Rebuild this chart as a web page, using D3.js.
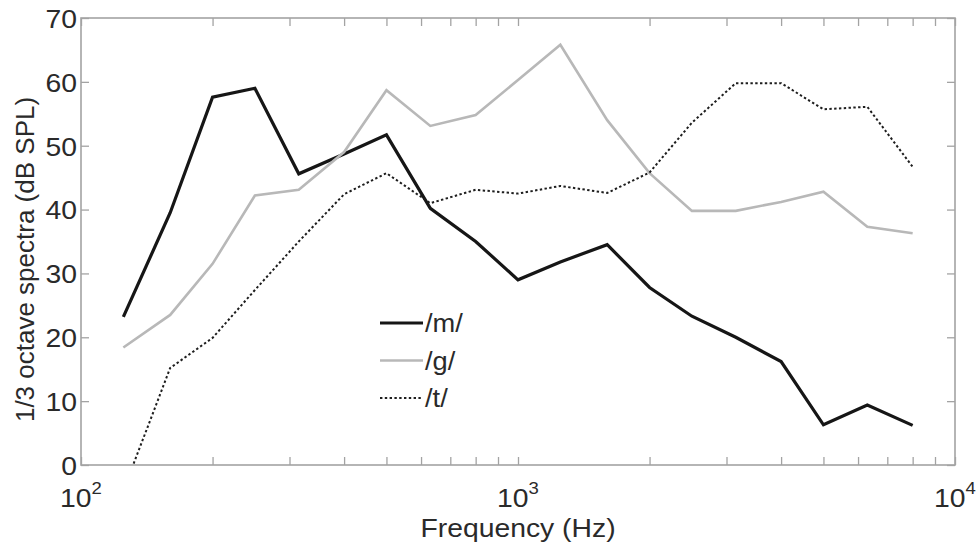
<!DOCTYPE html>
<html>
<head>
  <meta charset="utf-8">
  <title>1/3 octave spectra</title>
  <script src="https://d3js.org/d3.v7.min.js"></script>
  <style>
    body { margin: 0; background: #fff; }
    svg text { font-family: "Liberation Sans", Arial, sans-serif; fill: #2a2a2a; }
  </style>
</head>
<body>
  <div id="chart"></div>
  <script>
    "use strict"

    // 1/3 octave centre frequencies (Hz)
    var freqs = [125, 160, 200, 250, 315, 400, 500, 630, 800, 1000, 1250, 1600, 2000, 2500, 3150, 4000, 5000, 6300, 8000];
    var serieM = [23.2, 39.5, 57.6, 59.0, 45.6, 48.7, 51.7, 40.2, 35.0, 29.0, 31.8, 34.5, 27.8, 23.3, 20.0, 16.2, 6.3, 9.4, 6.2];
    var serieG = [18.4, 23.5, 31.5, 42.2, 43.1, 49.0, 58.7, 53.1, 54.8, 60.3, 65.8, 54.0, 45.7, 39.8, 39.8, 41.2, 42.8, 37.3, 36.3];
    var serieT = [-4.0, 15.2, 19.9, 27.4, 35.0, 42.4, 45.7, 41.0, 43.1, 42.5, 43.7, 42.6, 45.8, 53.6, 59.8, 59.8, 55.7, 56.1, 46.7];
    var nomes = ["/m/", "/g/", "/t/"];
    var yTicks = [0, 10, 20, 30, 40, 50, 60, 70];
    var xMajor = [100, 1000, 10000];
    var xExpoentes = ["2", "3", "4"];

    var larguraSVG = 980, alturaSVG = 545;
    var margin = {top: 18, right: 25, bottom: 80, left: 81},
        larguraVis = larguraSVG - margin.left - margin.right,
        alturaVis = alturaSVG - margin.top - margin.bottom;
    var esticaX = 1.09; // text in the picture is a bit wider than Arial

    var svg = d3.select('#chart').append('svg')
        .attr('width', larguraSVG)
        .attr('height', alturaSVG);

    var grafico = svg.append('g')
        .attr('transform', 'translate(' + margin.left + ',' + margin.top + ')');

    var x = d3.scaleLog().domain([100, 10000]).range([0, larguraVis]);
    var y = d3.scaleLinear().domain([0, 70]).range([alturaVis, 0]);

    // minor log ticks
    var xTicks = [];
    [100, 1000].forEach(function(dec) {
      for (var k = 1; k < 10; k++) xTicks.push(dec * k);
    });
    xTicks.push(10000);

    var corEixo = '#a3a3a3', tam = 8;

    function estilo(g) {
      g.select('.domain').remove();
      g.selectAll('.tick line').attr('stroke', corEixo).attr('stroke-width', 1.3);
    }

    grafico.append('g')
        .attr('transform', 'translate(0,' + alturaVis + ')')
        .call(d3.axisBottom(x).tickValues(xTicks).tickSize(-tam).tickFormat(''))
        .call(estilo);
    grafico.append('g')
        .call(d3.axisTop(x).tickValues(xTicks).tickSize(-tam).tickFormat(''))
        .call(estilo);
    grafico.append('g')
        .call(d3.axisLeft(y).tickValues(yTicks).tickSize(-tam).tickPadding(0).tickFormat(d3.format('d')))
        .call(estilo)
        .selectAll('text')
          .style('font-size', '26px')
          .attr('x', null)
          .attr('dy', '0.36em')
          .attr('transform', 'translate(-4,0) scale(' + esticaX + ',1)');
    grafico.append('g')
        .attr('transform', 'translate(' + larguraVis + ',0)')
        .call(d3.axisRight(y).tickValues(yTicks).tickSize(-tam).tickFormat(''))
        .call(estilo);

    grafico.append('rect')
        .attr('width', larguraVis)
        .attr('height', alturaVis)
        .attr('fill', 'none')
        .attr('stroke', corEixo)
        .attr('stroke-width', 1.6);

    // x labels 10^n
    var rotX = grafico.selectAll('.rotx')
        .data(xMajor)
        .enter().append('text')
          .attr('class', 'rotx')
          .attr('transform', function(d) { return 'translate(' + x(d) + ',' + (alturaVis + 42) + ') scale(' + esticaX + ',1)'; })
          .attr('text-anchor', 'middle')
          .style('font-size', '26px');
    rotX.append('tspan').text('10');
    rotX.append('tspan')
        .attr('dy', '-0.75em')
        .style('font-size', '17px')
        .text(function(d, i) { return xExpoentes[i]; });

    grafico.append('text')
        .attr('transform', 'translate(' + x(1000) + ',' + (alturaVis + 72) + ') scale(' + esticaX + ',1)')
        .attr('text-anchor', 'middle')
        .style('font-size', '26px')
        .text('Frequency (Hz)');

    svg.append('text')
        .attr('transform', 'translate(34,' + (margin.top + alturaVis / 2 + 18) + ') rotate(-90)')
        .attr('text-anchor', 'middle')
        .style('font-size', '26px')
        .text('1/3 octave spectra (dB SPL)');

    // lines
    grafico.append('clipPath').attr('id', 'clip')
      .append('rect').attr('width', larguraVis).attr('height', alturaVis);

    var series = [
      {nome: nomes[0], valores: serieM, cor: '#161616', largura: 3.2, traco: null},
      {nome: nomes[1], valores: serieG, cor: '#b8b8b8', largura: 2.6, traco: null},
      {nome: nomes[2], valores: serieT, cor: '#1e1e1e', largura: 2, traco: '2.4,2.4'}
    ];

    var linha = d3.line()
        .x(function(d) { return x(d[0]); })
        .y(function(d) { return y(d[1]); });

    grafico.append('g').attr('clip-path', 'url(#clip)')
      .selectAll('path')
      .data(series)
      .enter().append('path')
        .attr('d', function(s) { return linha(freqs.map(function(f, i) { return [f, s.valores[i]]; })); })
        .attr('fill', 'none')
        .attr('stroke', function(s) { return s.cor; })
        .attr('stroke-width', function(s) { return s.largura; })
        .attr('stroke-dasharray', function(s) { return s.traco; })
        .attr('stroke-linejoin', 'miter');

    // legend
    var legenda = svg.append('g').attr('transform', 'translate(380,323)');
    var itens = legenda.selectAll('g')
        .data(series)
        .enter().append('g')
          .attr('transform', function(d, i) { return 'translate(0,' + (i * 37.5) + ')'; });
    itens.append('line')
        .attr('x1', 0).attr('x2', 43)
        .attr('stroke', function(s) { return s.cor; })
        .attr('stroke-width', function(s) { return s.largura; })
        .attr('stroke-dasharray', function(s) { return s.traco; });
    itens.append('text')
        .attr('transform', 'translate(45,0) scale(' + esticaX + ',1)')
        .attr('dy', '0.36em')
        .style('font-size', '25px')
        .text(function(s) { return s.nome; });
  </script>
</body>
</html>
